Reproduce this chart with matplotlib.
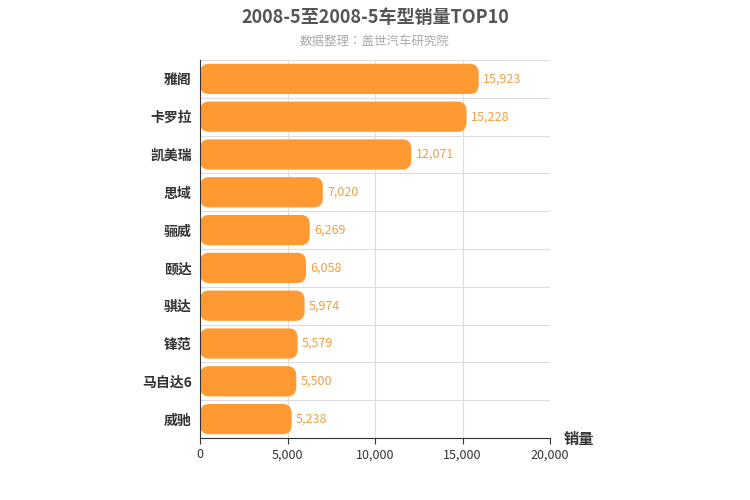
import matplotlib
matplotlib.use("Agg")
import matplotlib.pyplot as plt
from matplotlib import font_manager as fm
from matplotlib.patches import FancyBboxPatch

cjk = None
for f in fm.fontManager.ttflist:
    if "CJK" in f.name and ("SC" in f.name or cjk is None):
        cjk = f.name
        if "SC" in f.name:
            break
if cjk is None:
    for path in fm.findSystemFonts():
        if "CJK" in path or "cjk" in path.lower():
            fm.fontManager.addfont(path)
            cjk = fm.FontProperties(fname=path).get_name()
            break
plt.rcParams["font.family"] = "sans-serif"
plt.rcParams["font.sans-serif"] = [cjk or "Noto Sans CJK SC", "DejaVu Sans"]

categories = ["雅阁", "卡罗拉", "凯美瑞", "思域", "骊威", "颐达", "骐达", "锋范", "马自达6", "威驰"]
values = [15923, 15228, 12071, 7020, 6269, 6058, 5974, 5579, 5500, 5238]
xticks = [0, 5000, 10000, 15000, 20000]

fig = plt.figure(figsize=(7.5, 5), dpi=100)
ax = fig.add_axes([0.2667, 0.124, 0.4667, 0.756])
n = len(categories)
ys = list(range(n))[::-1]
bars = ax.barh(ys, values, height=0.8, color="none")
for b in bars:
    x, y = b.get_x(), b.get_y()
    w, h = b.get_width(), b.get_height()
    p = FancyBboxPatch((x, y), w, h, boxstyle="round,pad=0,rounding_size=500",
                       mutation_aspect=0.25 / 500, facecolor="#FF9A33", edgecolor="none")
    ax.add_patch(p)
for y, v in zip(ys, values):
    ax.text(v + 250, y, f"{v:,}", va="center", ha="left", color="#F0A040", fontsize=9)

ax.set_xlim(0, 20000)
ax.set_ylim(-0.5, n - 0.5)
ax.set_xticks(xticks)
ax.set_xticklabels([f"{t:,}" for t in xticks], fontsize=9, color="#333")
ax.set_yticks(ys)
ax.set_yticklabels(categories, fontsize=10, color="#333", fontweight="bold")
ax.set_yticks([i - 0.5 for i in range(n + 1)], minor=True)
ax.grid(axis="x", color="#dddddd", linewidth=0.8)
ax.grid(axis="y", which="minor", color="#dddddd", linewidth=0.8)
ax.tick_params(axis="y", which="both", length=0, pad=6)
ax.tick_params(axis="x", length=4, color="#333")
ax.set_axisbelow(True)
for s in ["top", "right"]:
    ax.spines[s].set_visible(False)
ax.spines["left"].set_color("#333")
ax.spines["bottom"].set_color("#333")

fig.text(0.5, 0.965, "2008-5至2008-5车型销量TOP10", ha="center", va="center",
         fontsize=13, fontweight="bold", color="#555555")
fig.text(0.5, 0.918, "数据整理：盖世汽车研究院", ha="center", va="center", fontsize=9, color="#aaaaaa")
fig.text(0.752, 0.122, "销量", ha="left", va="center", fontsize=11, fontweight="bold", color="#333")

fig.savefig("out.png", dpi=100)
